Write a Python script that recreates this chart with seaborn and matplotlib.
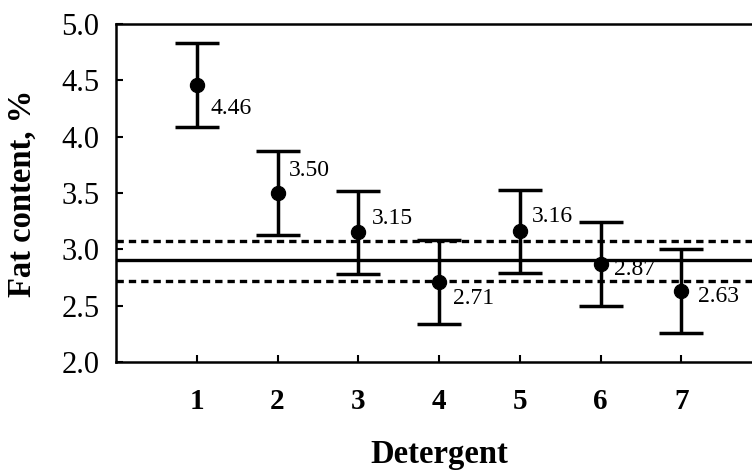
import seaborn as sns
import matplotlib.pyplot as plt
import pandas as pd

# Datos
detergents = [1, 2, 3, 4, 5, 6, 7]
fat_mean = [4.46, 3.50, 3.15, 2.71, 3.16, 2.87, 2.63]
fat_err = [0.37, 0.37, 0.37, 0.37, 0.37, 0.37, 0.37]
ref_mean = 2.905
ref_low = 2.715
ref_high = 3.075

df = pd.DataFrame({'Detergent': detergents, 'Fat': fat_mean, 'Err': fat_err})

sns.set_style('ticks')
plt.rcParams['font.family'] = ['Liberation Serif', 'DejaVu Serif']
plt.rcParams['text.color'] = 'black'
plt.rcParams['xtick.color'] = 'black'
plt.rcParams['ytick.color'] = 'black'
plt.rcParams['axes.labelcolor'] = 'black'

fig = plt.figure(figsize=(7.52, 4.74), dpi=100)
ax = fig.add_axes([0.1543, 0.2363, 0.859, 0.7131])

# lineas de referencia (media y limites)
ax.axhline(ref_mean, color='black', lw=2.4, zorder=1)
ax.axhline(ref_high, color='black', lw=2.4, ls=(0, (2.2, 1.5)), zorder=1)
ax.axhline(ref_low, color='black', lw=2.4, ls=(0, (2.2, 1.5)), zorder=1)

ax.errorbar(df['Detergent'], df['Fat'], yerr=df['Err'], fmt='none',
            ecolor='black', elinewidth=2.5, capsize=15.5, capthick=2.5, zorder=2)
sns.scatterplot(data=df, x='Detergent', y='Fat', color='black', s=105,
                edgecolor='black', zorder=3, ax=ax)

# etiquetas de valor (desplazamiento en puntos)
offsets = [(10, -17), (8, 16), (10, 10), (10, -12), (9, 11), (10, -4), (12, -4)]
for x, y, (dx, dy) in zip(detergents, fat_mean, offsets):
    ax.annotate(f'{y:.2f}', (x, y), xytext=(dx, dy), textcoords='offset points',
                ha='left', va='center', fontsize=17)

ax.set_xlim(0, 8)
ax.set_ylim(2.0, 5.0)
ax.set_xticks(detergents)
ax.set_yticks([2.0, 2.5, 3.0, 3.5, 4.0, 4.5, 5.0])
ax.set_yticklabels([f'{v:.1f}' for v in [2.0, 2.5, 3.0, 3.5, 4.0, 4.5, 5.0]])
ax.tick_params(axis='x', direction='in', length=5, width=1.5, pad=19, labelsize=21)
ax.tick_params(axis='y', direction='in', length=5, width=1.5, pad=12, labelsize=22)
for lab in ax.get_xticklabels():
    lab.set_fontweight('bold')
for s in ax.spines.values():
    s.set_linewidth(1.8)
    s.set_color('black')

ax.set_xlabel('Detergent', fontsize=23.5, fontweight='bold', labelpad=17)
ax.set_ylabel('Fat content, %', fontsize=23.5, fontweight='bold', labelpad=17)

fig.savefig('out.png', dpi=100)
